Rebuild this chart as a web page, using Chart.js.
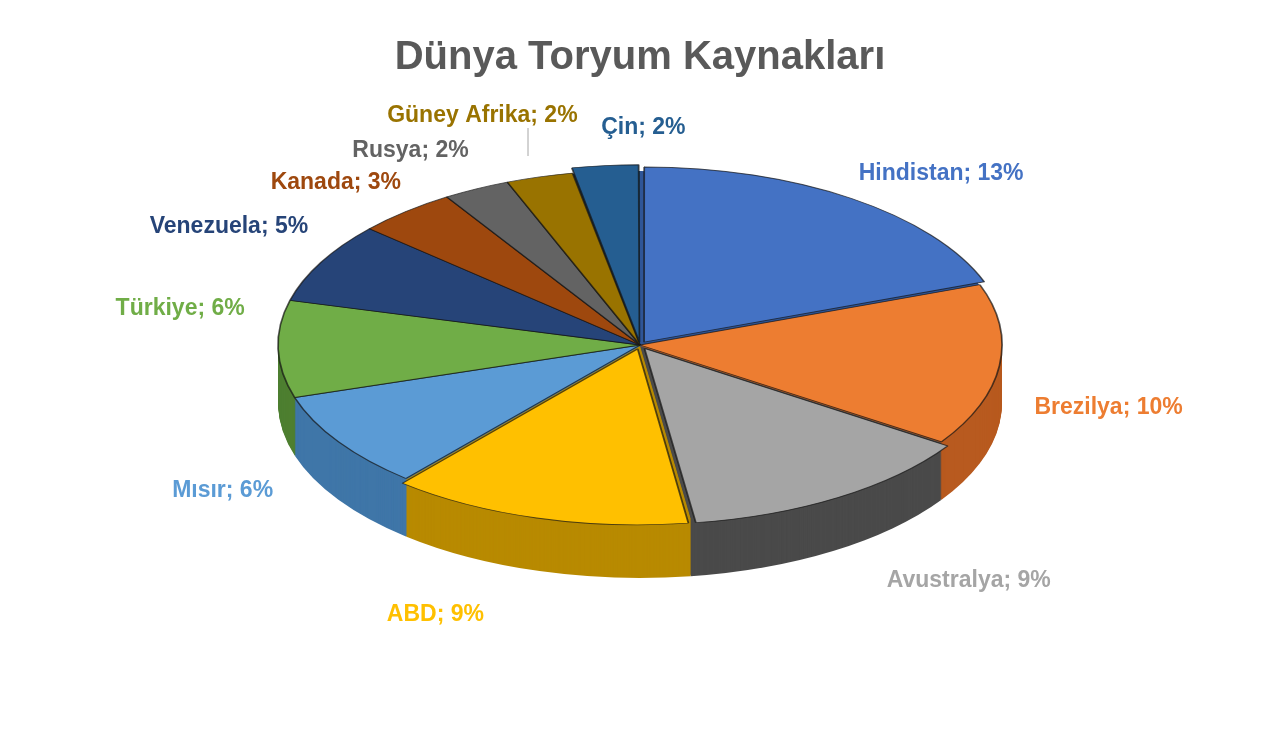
<!DOCTYPE html>
<html><head><meta charset="utf-8">
<script src="https://cdn.jsdelivr.net/npm/chart.js@4/dist/chart.umd.min.js"></script>
<style>html,body{margin:0;background:#fff}#w{width:1280px;height:749px}</style>
</head><body><div id="w"><canvas id="c"></canvas></div>
<script>
const categories = ['Hindistan','Brezilya','Avustralya','ABD','Mısır','Türkiye','Venezuela','Kanada','Rusya','Güney Afrika','Çin'];
const values = [13,10,9,9,6,6,5,3,2,2,2];
const percentLabels = ['13%','10%','9%','9%','6%','6%','5%','3%','2%','2%','2%'];
const colors = ['#4472C4','#ED7D31','#A5A5A5','#FFC000','#5B9BD5','#70AD47','#264478','#9E480E','#636363','#997300','#255E91'];
const sideColors = ['#2F5597','#B85A1F','#4A4A4A','#B88A00','#3F76A8','#4E7F30','#1A3055','#6E320A','#454545','#6B5000','#1A4266'];
const labelColors = ['#4472C4','#ED7D31','#A5A5A5','#FFC000','#5B9BD5','#70AD47','#264478','#9E480E','#636363','#997300','#255E91'];
const offsets = [24,0,28,28,0,0,0,0,0,0,20];

const CX=640, CY=345, RX=362, RY=175, TH=58;
let cx0=0, cy0=0;
function tf(ctx, el){
  ctx.translate(CX, CY); ctx.scale(RX/el.outerRadius, RY/el.outerRadius); ctx.translate(-cx0, -cy0);
}
const nudge = [[0,15],[-7,29],[45,-6],[-84,-5],[-35,-12],[9,-43],[21,-11],[12,11],[-5,21],[-37,1],[44,21]];
const threeD = {
  id:'threeD',
  beforeDatasetsDraw(chart){
    const ctx = chart.ctx, arcs = chart.getDatasetMeta(0).data;
    cx0 = (chart.chartArea.left+chart.chartArea.right)/2;
    cy0 = (chart.chartArea.top+chart.chartArea.bottom)/2;
    const sy = RY/arcs[0].outerRadius;
    ctx.save(); tf(ctx, arcs[0]);
    for(let d=TH; d>=1; d-=1){
      arcs.forEach((a,i)=>{
        ctx.beginPath();
        ctx.moveTo(a.x, a.y + d/sy);
        ctx.arc(a.x, a.y + d/sy, a.outerRadius, a.startAngle, a.endAngle);
        ctx.closePath();
        ctx.fillStyle = sideColors[i]; ctx.fill();
      });
    }
  },
  afterDatasetsDraw(chart){
    const ctx = chart.ctx; ctx.restore();
    const arcs = chart.getDatasetMeta(0).data;
    ctx.save();
    ctx.font = 'bold 23px "Liberation Sans", Arial, sans-serif';
    ctx.textBaseline = 'middle';
    arcs.forEach((a,i)=>{
      const m = (a.startAngle+a.endAngle)/2;
      const c = Math.cos(m), s = Math.sin(m);
      let x = CX + c*RX*1.2, y = CY + s*RY*1.3;
      if (s>0) y += TH*s;
      if (i>=8) y -= 12;
      x += (c>0.3?-30:c<-0.3?30:0);
      const txt = categories[i]+'; '+percentLabels[i];
      ctx.textAlign = c>0.3 ? 'left' : (c<-0.3 ? 'right' : 'center');
      ctx.fillStyle = labelColors[i];
      ctx.fillText(txt, x + nudge[i][0], y + nudge[i][1]);
    });
    ctx.strokeStyle = '#A6A6A6'; ctx.lineWidth = 1;
    ctx.beginPath(); ctx.moveTo(528,128); ctx.lineTo(528,156); ctx.stroke();
    ctx.restore();
  }
};
new Chart(document.getElementById('c'), {
  type:'pie',
  data:{labels:categories, datasets:[{data:values, backgroundColor:colors, borderColor:'rgba(20,20,20,0.7)', borderWidth:1.5, offset:offsets}]},
  options:{responsive:true, maintainAspectRatio:false, animation:false,
    layout:{padding:{top:20,bottom:20,left:20,right:20}},
    plugins:{legend:{display:false}, tooltip:{enabled:false},
      title:{display:true, text:'Dünya Toryum Kaynakları', color:'#595959',
        font:{size:40, weight:'bold', family:'"Liberation Sans", Arial, sans-serif'}, padding:{top:14,bottom:10}}}},
  plugins:[threeD]
});
</script></body></html>
